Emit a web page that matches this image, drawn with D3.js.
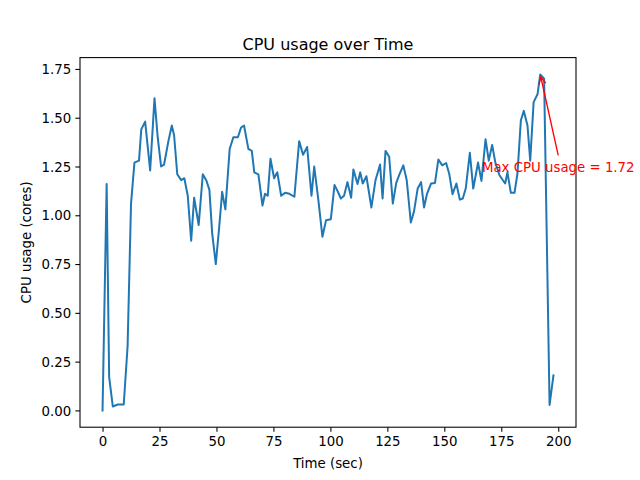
<!DOCTYPE html>
<html><head><meta charset="utf-8">
<script src="https://cdn.jsdelivr.net/npm/d3@7"></script>
<style>body{margin:0;background:#fff}svg{display:block}text{font-family:"DejaVu Sans",sans-serif;fill:#000}</style>
</head><body>
<script>
const timeSec = [0,1.8,2.9,4.5,6.7,7.8,9.3,11.0,12.5,14.0,16.0,17.0,18.7,20.9,22.8,24.2,25.7,27.0,28.9,30.4,31.4,32.8,34.5,35.9,37.4,38.9,40.2,42.2,44.0,45.5,46.9,48.1,49.7,51.2,52.5,53.9,55.8,57.4,59.4,60.8,62.1,64.0,65.5,66.6,68.4,70.2,71.3,72.5,73.7,75.3,76.7,78.4,80.1,82.0,84.2,86.3,88.0,89.8,91.7,92.9,94.8,96.5,98.1,100.2,101.8,103.1,104.6,106.0,107.5,109.1,110.1,111.9,113.1,114.2,115.8,118.0,119.8,121.8,122.9,124.2,125.8,127.4,128.9,130.3,132.0,133.5,135.3,136.7,138.3,139.8,141.1,142.4,144.2,145.9,147.4,149.1,150.8,152.2,153.6,155.3,156.8,158.1,159.4,161.2,162.7,164.8,166.3,168.1,169.5,171.0,172.4,174.2,176.7,177.7,179.2,180.8,182.1,183.6,184.9,186.5,187.7,189.2,190.9,192.1,193.8,196.2,197.9];
const cpuCores = [0.00,1.16,0.17,0.02,0.03,0.03,0.03,0.33,1.06,1.27,1.28,1.44,1.48,1.23,1.60,1.40,1.25,1.26,1.38,1.46,1.41,1.21,1.18,1.19,1.10,0.87,1.09,0.95,1.21,1.18,1.13,0.91,0.75,0.94,1.12,1.03,1.34,1.40,1.40,1.45,1.46,1.34,1.33,1.22,1.21,1.05,1.11,1.10,1.29,1.19,1.22,1.10,1.115,1.11,1.095,1.38,1.31,1.35,1.10,1.25,1.07,0.89,0.975,0.98,1.155,1.125,1.086,1.10,1.17,1.09,1.235,1.16,1.22,1.163,1.20,1.04,1.18,1.26,1.086,1.33,1.30,1.06,1.166,1.21,1.256,1.18,0.963,1.02,1.137,1.17,1.04,1.11,1.163,1.166,1.286,1.256,1.268,1.21,1.108,1.163,1.08,1.086,1.137,1.32,1.137,1.27,1.176,1.39,1.28,1.36,1.27,1.205,1.163,1.22,1.115,1.115,1.214,1.487,1.535,1.46,1.28,1.58,1.62,1.722,1.70,0.028,0.18];
const xTicks = [0,25,50,75,100,125,150,175,200];
const yTicks = [0,0.25,0.5,0.75,1.0,1.25,1.5,1.75];

const W=640,H=480, L=80, R=576, T=57.6, B=427.2;
const svg = d3.select("body").append("svg").attr("width",W).attr("height",H);

const xMin=d3.min(timeSec), xMax=d3.max(timeSec), xp=(xMax-xMin)*0.05;
const yMin=d3.min(cpuCores), yMax=d3.max(cpuCores), yp=(yMax-yMin)*0.05;
const x = d3.scaleLinear().domain([xMin-xp,xMax+xp]).range([L,R]);
const y = d3.scaleLinear().domain([yMin-yp,yMax+yp]).range([B,T]);

const data = timeSec.map((t,i)=>({t,v:cpuCores[i]}));

// line
svg.append("path").datum(data)
  .attr("fill","none").attr("stroke","#1f77b4").attr("stroke-width",2)
  .attr("stroke-linejoin","round").attr("stroke-linecap","square")
  .attr("d", d3.line().x(d=>x(d.t)).y(d=>y(d.v)));

// axes
const xAxis = d3.axisBottom(x).tickValues(xTicks).tickFormat(d3.format("d")).tickSize(4.67).tickPadding(4.2);
const yAxis = d3.axisLeft(y).tickValues(yTicks).tickFormat(d3.format(".2f")).tickSize(4.67).tickPadding(4.2);
const gx = svg.append("g").attr("transform",`translate(0,${B})`).call(xAxis);
const gy = svg.append("g").attr("transform",`translate(${L},0)`).call(yAxis);
[gx,gy].forEach(g=>{
  g.select(".domain").remove();
  g.selectAll(".tick line").attr("stroke","#000").attr("stroke-width",1.07);
  g.selectAll(".tick text").attr("font-family","DejaVu Sans").attr("font-size",13.33).attr("fill","#000");
});
gy.selectAll(".tick text").attr("dy","0.35em");

// frame
svg.append("rect").attr("x",L).attr("y",T).attr("width",R-L).attr("height",B-T)
  .attr("fill","none").attr("stroke","#000").attr("stroke-width",1.07);

// labels
svg.append("text").attr("x",(L+R)/2).attr("y",49.5).attr("text-anchor","middle")
  .attr("font-size",16).text("CPU usage over Time");
svg.append("text").attr("x",(L+R)/2).attr("y",468).attr("text-anchor","middle")
  .attr("font-size",13.33).text("Time (sec)");
svg.append("text").attr("transform",`translate(31,${(T+B)/2}) rotate(-90)`).attr("text-anchor","middle")
  .attr("font-size",13.33).text("CPU usage (cores)");

// annotation
const iMax = d3.maxIndex(cpuCores);
const px = x(timeSec[iMax]), py = y(cpuCores[iMax]);
const tx = x(200), ty = y(1.22);
svg.append("text").attr("x",tx).attr("y",ty).attr("text-anchor","middle")
  .attr("font-size",13.33).style("fill","red")
  .text(`Max CPU usage = ${cpuCores[iMax].toFixed(2)}`);
const sx = tx, sy = ty - 17;
const ang = Math.atan2(py-sy, px-sx);
const ex = px - 2.67*Math.cos(ang), ey = py - 2.67*Math.sin(ang);
svg.append("line").attr("x1",sx).attr("y1",sy).attr("x2",ex).attr("y2",ey)
  .attr("stroke","red").attr("stroke-width",1.33);
const hl=7, hw=3.5;
const bx = ex - hl*Math.cos(ang), by = ey - hl*Math.sin(ang);
const nx = -Math.sin(ang), ny = Math.cos(ang);
svg.append("path")
  .attr("d",`M${bx+nx*hw},${by+ny*hw}L${ex},${ey}L${bx-nx*hw},${by-ny*hw}`)
  .attr("fill","none").attr("stroke","red").attr("stroke-width",1.33);
</script>
</body></html>
